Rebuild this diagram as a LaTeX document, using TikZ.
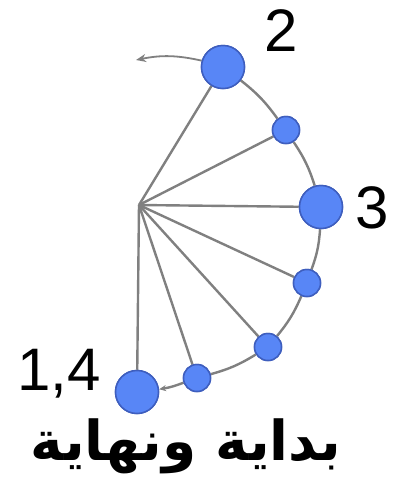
\documentclass[tikz,border=0pt]{standalone}
\usepackage{fontspec}
\setmainfont{Liberation Sans}
\newfontfamily\arabicfont[Script=Arabic]{DejaVu Sans}
\TeXXeTstate=1
\usetikzlibrary{arrows.meta}
\definecolor{dotfill}{RGB}{88,134,246}
\definecolor{dotdraw}{RGB}{62,94,190}
\definecolor{linegray}{RGB}{128,128,128}
\begin{document}
\begin{tikzpicture}[x=1pt,y=-1pt,
  big/.style={circle,fill=dotfill,draw=dotdraw,line width=1.5pt,minimum size=43pt,inner sep=0pt},
  small/.style={circle,fill=dotfill,draw=dotdraw,line width=1.5pt,minimum size=27pt,inner sep=0pt},
  spoke/.style={draw=linegray,line width=2.4pt},
  arcline/.style={draw=linegray,line width=2.4pt},
  lbl/.style={font=\fontsize{60}{64}\selectfont,inner sep=0pt}]
\fill[white] (0,0) rectangle (399,491);
\useasboundingbox (0,0) rectangle (399,491);
\coordinate (hub) at (139,205);
\coordinate (free) at (136,60);
\node[big] (n2) at (223,67) {};
\node[small] (na) at (286,130) {};
\node[big] (n3) at (321,207) {};
\node[small] (nb) at (307,283) {};
\node[small] (nc) at (268,347) {};
\node[small] (nd) at (197,378) {};
\node[big] (n1) at (137,392) {};
\foreach \n in {n2,na,n3,nb,nc,nd,n1} \draw[spoke] (hub) -- (\n);
\draw[arcline] (n2) to[bend left=8] (na);
\draw[arcline] (na) to[bend left=8] (n3);
\draw[arcline] (n3) to[bend left=8] (nb);
\draw[arcline] (nb) to[bend left=8] (nc);
\draw[arcline] (nc) to[bend left=8] (nd);
\draw[arcline,-{Stealth[length=7pt,width=6pt]}] (nd) to[bend left=6] (n1);
\draw[arcline,line width=1.8pt,-{Stealth[length=10pt,width=8pt]}] (n2) to[bend right=12] (free);
\node[big] at (n2) {};
\node[small] at (na) {};
\node[big] at (n3) {};
\node[small] at (nb) {};
\node[small] at (nc) {};
\node[small] at (nd) {};
\node[big] at (n1) {};
\node[lbl] (l2) at (281,31) {2};
\node[lbl] (l3) at (372,208) {3};
\node[lbl] (l14) at (59,374) {1,4};
\node[inner sep=0pt] (title) at (186,446) {\arabicfont\bfseries\fontsize{55}{60}\selectfont\beginR بداية ونهاية\endR};
\end{tikzpicture}
\end{document}
